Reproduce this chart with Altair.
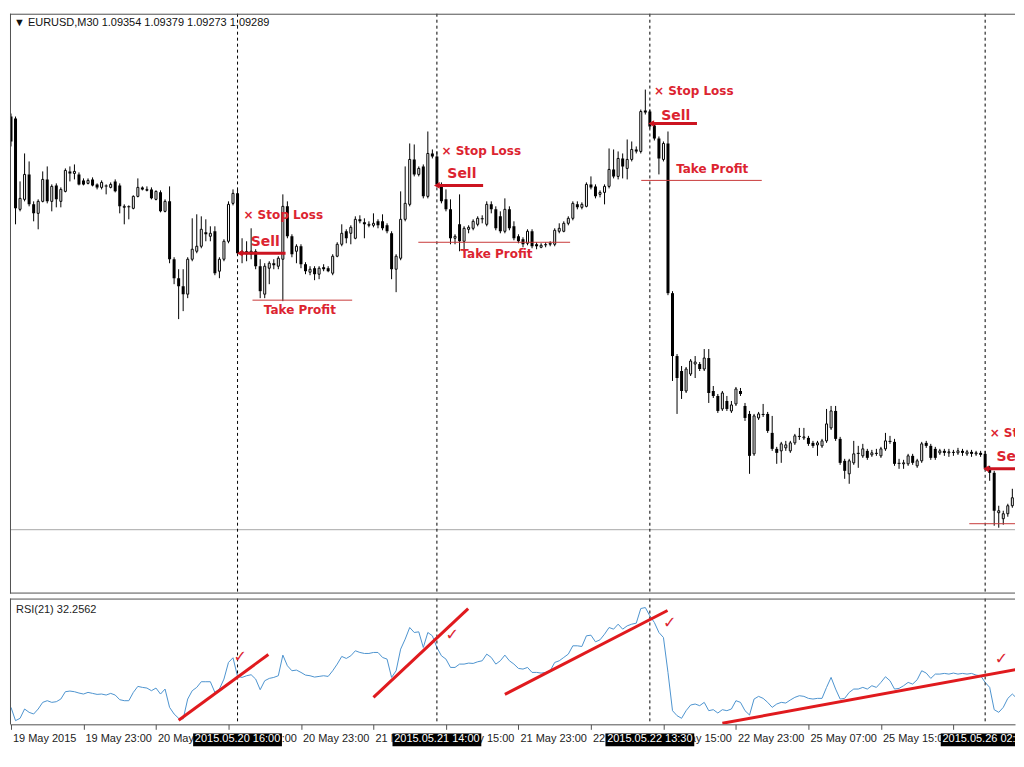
import altair as alt
import pandas as pd
import numpy as np

# ---------------- data (EURUSD M30, prices in points: 11385 -> 1.1385) ----------------
OPEN = [11385, 11383, 11292, 11302, 11327, 11297, 11288, 11300, 11322, 11300,
        11316, 11300, 11310, 11330, 11328, 11327, 11321, 11318, 11322, 11317,
        11314, 11316, 11314, 11320, 11316, 11294, 11295, 11293, 11305, 11314,
        11311, 11312, 11302, 11309, 11290, 11300, 11242, 11223, 11215, 11207,
        11242, 11250, 11255, 11269, 11265, 11270, 11230, 11242, 11260, 11298,
        11308, 11247, 11250, 11247, 11250, 11235, 11207, 11233, 11238, 11235,
        11242, 11295, 11265, 11250, 11255, 11237, 11229, 11233, 11227, 11234,
        11233, 11228, 11245, 11257, 11270, 11268, 11263, 11282, 11279, 11276,
        11276, 11280, 11280, 11276, 11268, 11232, 11243, 11282, 11297, 11342,
        11327, 11335, 11305, 11348, 11345, 11317, 11302, 11292, 11263, 11277,
        11260, 11272, 11273, 11277, 11283, 11277, 11297, 11292, 11285, 11270,
        11292, 11275, 11265, 11262, 11258, 11270, 11257, 11254, 11257, 11257,
        11257, 11270, 11270, 11278, 11283, 11297, 11294, 11295, 11317, 11315,
        11307, 11309, 11315, 11332, 11325, 11343, 11333, 11342, 11352, 11350,
        11391, 11390, 11376, 11363, 11342, 11358, 11208, 11145, 11130, 11110,
        11127, 11137, 11137, 11132, 11143, 11110, 11105, 11092, 11100, 11090,
        11097, 11110, 11095, 11087, 11047, 11083, 11087, 11087, 11068, 11052,
        11050, 11053, 11050, 11058, 11065, 11063, 11063, 11058, 11056, 11055,
        11060, 11073, 11090, 11062, 11040, 11027, 11038, 11048, 11045, 11050,
        11046, 11048, 11045, 11052, 11060, 11059, 11038, 11037, 11037, 11045,
        11035, 11040, 11058, 11055, 11052, 11048, 11050, 11048, 11049, 11048,
        11050, 11047, 11049, 11047, 11048, 11047, 11033, 11028, 10988, 10982,
        10987, 10995, 11003, 10997]

HIGH = [11388, 11385, 11320, 11348, 11340, 11300, 11302, 11330, 11335, 11317,
        11318, 11314, 11333, 11335, 11337, 11329, 11323, 11323, 11324, 11318,
        11321, 11317, 11319, 11322, 11318, 11297, 11296, 11306, 11323, 11315,
        11315, 11314, 11311, 11311, 11302, 11315, 11244, 11232, 11232, 11244,
        11283, 11287, 11285, 11282, 11275, 11275, 11244, 11262, 11300, 11312,
        11312, 11263, 11260, 11273, 11252, 11242, 11238, 11240, 11242, 11245,
        11307, 11300, 11267, 11257, 11257, 11239, 11235, 11235, 11235, 11237,
        11235, 11247, 11259, 11277, 11272, 11276, 11285, 11286, 11283, 11280,
        11288, 11282, 11287, 11278, 11270, 11247, 11310, 11335, 11358, 11357,
        11335, 11337, 11370, 11352, 11350, 11319, 11312, 11302, 11267, 11307,
        11275, 11276, 11282, 11285, 11286, 11300, 11300, 11295, 11290, 11303,
        11295, 11280, 11267, 11264, 11272, 11272, 11259, 11258, 11259, 11260,
        11273, 11278, 11280, 11285, 11300, 11300, 11299, 11319, 11325, 11317,
        11311, 11317, 11353, 11352, 11350, 11348, 11362, 11360, 11355, 11392,
        11412, 11392, 11378, 11365, 11360, 11370, 11210, 11147, 11135, 11134,
        11142, 11145, 11139, 11152, 11152, 11115, 11107, 11110, 11105, 11100,
        11114, 11113, 11098, 11090, 11087, 11089, 11097, 11089, 11085, 11054,
        11059, 11060, 11060, 11067, 11073, 11073, 11065, 11060, 11060, 11062,
        11092, 11095, 11095, 11064, 11042, 11042, 11060, 11055, 11057, 11052,
        11051, 11052, 11054, 11068, 11065, 11062, 11042, 11041, 11047, 11047,
        11042, 11059, 11060, 11057, 11054, 11052, 11052, 11052, 11051, 11053,
        11052, 11051, 11051, 11050, 11050, 11050, 11035, 11030, 10995, 10990,
        10997, 11012, 11005, 11000]

LOW = [11355, 11277, 11290, 11300, 11295, 11280, 11272, 11299, 11298, 11290,
       11294, 11294, 11309, 11320, 11322, 11316, 11316, 11317, 11315, 11312,
       11312, 11307, 11313, 11309, 11288, 11277, 11282, 11292, 11304, 11311,
       11310, 11302, 11301, 11289, 11289, 11238, 11217, 11182, 11190, 11203,
       11240, 11248, 11253, 11260, 11260, 11226, 11223, 11240, 11258, 11296,
       11246, 11238, 11240, 11242, 11232, 11203, 11203, 11217, 11232, 11232,
       11200, 11263, 11244, 11238, 11233, 11227, 11226, 11221, 11222, 11230,
       11229, 11226, 11244, 11255, 11258, 11257, 11262, 11278, 11263, 11274,
       11274, 11273, 11271, 11268, 11222, 11209, 11241, 11280, 11295, 11325,
       11325, 11303, 11303, 11343, 11315, 11298, 11290, 11257, 11257, 11250,
       11250, 11268, 11271, 11275, 11278, 11275, 11288, 11271, 11268, 11268,
       11271, 11261, 11258, 11254, 11256, 11253, 11252, 11253, 11254, 11255,
       11255, 11268, 11269, 11276, 11281, 11292, 11292, 11294, 11312, 11303,
       11304, 11297, 11313, 11323, 11322, 11323, 11322, 11340, 11348, 11348,
       11387, 11373, 11361, 11327, 11340, 11206, 11120, 11087, 11102, 11108,
       11125, 11123, 11130, 11130, 11098, 11103, 11088, 11090, 11090, 11088,
       11095, 11105, 11080, 11027, 11045, 11081, 11084, 11068, 11050, 11037,
       11038, 11050, 11048, 11056, 11061, 11061, 11055, 11053, 11045, 11053,
       11058, 11071, 11060, 11036, 11022, 11017, 11036, 11033, 11043, 11041,
       11044, 11045, 11043, 11050, 11057, 11035, 11032, 11032, 11035, 11036,
       11033, 11038, 11053, 11041, 11041, 11046, 11045, 11044, 11045, 11046,
       11045, 11045, 11044, 11045, 11044, 11031, 11020, 10975, 10973, 10976,
       10984, 10993, 10994, 10986]

CLOSE = [11360, 11293, 11303, 11327, 11297, 11288, 11300, 11322, 11300, 11315,
         11302, 11312, 11331, 11328, 11330, 11317, 11317, 11321, 11316, 11314,
         11319, 11315, 11317, 11310, 11295, 11295, 11294, 11305, 11314, 11312,
         11312, 11303, 11310, 11290, 11300, 11242, 11223, 11215, 11207, 11242,
         11252, 11255, 11272, 11267, 11268, 11228, 11242, 11260, 11297, 11308,
         11248, 11250, 11247, 11250, 11235, 11210, 11235, 11238, 11236, 11243,
         11295, 11265, 11247, 11255, 11237, 11230, 11232, 11227, 11233, 11232,
         11230, 11245, 11257, 11268, 11263, 11274, 11282, 11280, 11277, 11277,
         11278, 11276, 11273, 11270, 11232, 11245, 11282, 11298, 11342, 11327,
         11333, 11305, 11348, 11345, 11317, 11300, 11292, 11263, 11265, 11260,
         11273, 11274, 11280, 11283, 11282, 11297, 11292, 11273, 11270, 11292,
         11273, 11263, 11260, 11257, 11270, 11255, 11255, 11256, 11256, 11258,
         11271, 11273, 11278, 11283, 11298, 11294, 11297, 11317, 11314, 11305,
         11309, 11315, 11332, 11325, 11343, 11335, 11342, 11352, 11350, 11390,
         11389, 11375, 11363, 11343, 11358, 11208, 11145, 11123, 11110, 11132,
         11140, 11139, 11132, 11143, 11108, 11105, 11090, 11108, 11092, 11096,
         11112, 11107, 11083, 11045, 11085, 11087, 11086, 11070, 11052, 11048,
         11057, 11056, 11058, 11065, 11064, 11064, 11057, 11055, 11058, 11060,
         11077, 11090, 11062, 11038, 11030, 11040, 11047, 11047, 11052, 11043,
         11048, 11047, 11052, 11060, 11059, 11037, 11037, 11038, 11045, 11038,
         11040, 11057, 11055, 11043, 11043, 11050, 11048, 11049, 11048, 11050,
         11048, 11049, 11047, 11048, 11046, 11033, 11028, 10990, 10990, 10987,
         10995, 11003, 10997, 10990]

RSI = [23.0, 15.0, 16.4, 22.0, 20.0, 19.0, 22.0, 26.0, 27.0, 26.0,
       26.4, 28.0, 32.4, 32.8, 32.4, 31.6, 31.0, 32.0, 31.4, 30.8,
       31.0, 30.4, 31.4, 30.4, 27.6, 27.0, 27.0, 32.0, 35.6, 35.0,
       34.6, 33.0, 34.6, 31.0, 34.0, 23.0, 19.0, 16.4, 16.0, 28.0,
       33.0, 35.0, 38.4, 38.4, 38.4, 32.0, 34.0, 40.0, 50.0, 52.8,
       41.6, 41.0, 42.0, 42.6, 40.0, 33.6, 39.0, 40.4, 41.0, 42.0,
       54.4, 48.0, 45.0, 45.4, 44.0, 42.4, 42.0, 41.2, 41.6, 42.0,
       41.6, 45.0, 49.0, 53.6, 52.4, 54.0, 57.0, 56.0, 55.4, 55.4,
       56.0, 56.0, 53.0, 52.0, 41.0, 45.0, 58.0, 64.0, 71.0, 68.0,
       68.4, 59.0, 68.0, 66.0, 59.0, 54.0, 52.0, 47.0, 47.0, 49.0,
       49.0, 49.6, 49.4, 50.4, 51.0, 55.0, 53.0, 49.0, 51.0, 54.4,
       51.0, 49.0, 46.4, 46.0, 47.0, 44.0, 44.0, 43.6, 44.0, 45.0,
       50.0, 51.0, 53.0, 55.0, 60.0, 60.0, 59.6, 66.0, 66.4, 62.4,
       63.6, 67.0, 71.0, 70.0, 73.0, 70.0, 72.0, 73.0, 73.6, 82.4,
       83.0, 78.0, 74.0, 68.0, 65.0, 44.0, 21.0, 18.0, 16.4, 21.0,
       24.4, 25.0, 24.0, 26.0, 21.0, 21.6, 19.6, 21.6, 21.0, 22.0,
       27.0, 26.0, 21.0, 18.4, 28.0, 29.6, 28.4, 26.0, 23.0, 25.0,
       26.0, 25.6, 27.4, 29.0, 30.0, 29.6, 28.4, 28.0, 28.4, 28.4,
       35.0, 41.0, 34.0, 28.0, 28.4, 32.0, 34.0, 34.0, 35.0, 34.0,
       36.0, 35.0, 38.0, 41.4, 39.0, 34.0, 34.4, 36.0, 38.0, 37.0,
       39.6, 45.0, 43.6, 40.4, 43.0, 43.0, 43.4, 43.0, 43.6, 43.0,
       43.4, 43.0, 43.4, 42.4, 42.0, 38.0, 35.0, 21.6, 20.0, 23.0,
       28.4, 31.0, 28.4, 32.0]

TICK_IDX = [0, 16, 32, 48, 64, 80, 96, 112, 128, 144, 160, 176, 192, 208]
TICK_LABELS = ["19 May 2015", "19 May 23:00", "20 May 07:00", "20 May 15:00",
               "20 May 23:00", "21 May 07:00", "21 May 15:00", "21 May 23:00",
               "22 May 07:00", "22 May 15:00", "22 May 23:00", "25 May 07:00",
               "25 May 15:00", "25 May 23:00"]

VLINE_IDX = [50, 94, 141, 215]
VLINE_LABELS = ["2015.05.20 16:00", "2015.05.21 14:00", "2015.05.22 13:30", "2015.05.26 02:30"]

BID = 1.0971

# trade annotations (bar index, price)
SL_I = [51.3, 95.0, 141.9, 216.0]
SL_P = [1.1286, 1.1350, 1.1411, 1.1068]
SELL_TXT_I = [52.9, 96.3, 143.5, 217.5]
SELL_TXT_P = [1.1259, 1.1327, 1.1386, 1.1044]
SELL_I0 = [50.5, 94.0, 141.3, 215.2]
SELL_I1 = [60.6, 104.2, 151.4, 226.0]
SELL_P = [1.1248, 1.1316, 1.1378, 1.1032]
TP_I0 = [53.3, 89.9, 139.1, 211.5]
TP_I1 = [75.3, 123.4, 165.7, 226.0]
TP_P = [1.1201, 1.1259, 1.1321, 1.0977]
TP_TXT_I = [55.8, 99.2, 146.8]
TP_TXT_P = [1.1191, 1.1247, 1.1332]

# RSI trend lines and check marks
TL_I0 = [37.0, 80.0, 109.0, 157.0]
TL_R0 = [15.2, 29.0, 30.8, 13.4]
TL_I1 = [56.8, 100.9, 144.9, 223.1]
TL_R1 = [54.8, 82.4, 81.2, 46.4]
CHECK_I = [50.6, 97.4, 145.4, 218.6]
CHECK_R = [53.0, 66.2, 74.0, 51.8]

# ---------------- build ----------------
W = 1007
H_PRICE = 581
H_RSI = 126
H_STRIP = 17
RED = "#dc2430"
DARK_RED = "#cc1420"
FONT = "Liberation Sans"
AFONT = "DejaVu Sans"

df = pd.DataFrame({
    "i": np.arange(len(OPEN)),
    "open": np.array(OPEN) / 1e4,
    "high": np.array(HIGH) / 1e4,
    "low": np.array(LOW) / 1e4,
    "close": np.array(CLOSE) / 1e4,
})
bull = df[df["close"] >= df["open"]]
bear = df[df["close"] < df["open"]]
rsi_df = pd.DataFrame({"i": np.arange(len(RSI)), "rsi": RSI})
one = pd.DataFrame({"k": [0]})

XS = alt.Scale(domain=[-0.22, 221.59], nice=False, zero=False, padding=0)
YP = alt.Scale(domain=[1.0907, 1.1488], nice=False, zero=False, padding=0)
YR = alt.Scale(domain=[12.8, 88.4], nice=False, zero=False, padding=0)

X = alt.X("i:Q", scale=XS, axis=None)

vl_df = pd.DataFrame({"i": VLINE_IDX, "label": VLINE_LABELS})

# ---- price panel ----
p_border_l = alt.Chart(one).mark_rule(color="#505050").encode(
    x=alt.value(0.5), y=alt.value(0), y2=alt.value(H_PRICE))
p_border_t = alt.Chart(one).mark_rule(color="#505050").encode(
    x=alt.value(0), x2=alt.value(W), y=alt.value(0.5))
p_border_b = alt.Chart(one).mark_rule(color="#505050").encode(
    x=alt.value(0), x2=alt.value(W), y=alt.value(H_PRICE - 0.5))

bid = alt.Chart(pd.DataFrame({"p": [BID]})).mark_rule(color="#a8a8a8", strokeWidth=1).encode(
    y=alt.Y("p:Q", scale=YP, axis=None))

vlines_p = alt.Chart(vl_df).mark_rule(color="black", strokeWidth=1, strokeDash=[3, 3]).encode(
    x=alt.X("i:Q", scale=XS, axis=None))

wicks = alt.Chart(df).mark_rule(color="black", strokeWidth=1, clip=True).encode(
    x=X, y=alt.Y("low:Q", scale=YP, axis=None), y2="high:Q")
bear_b = alt.Chart(bear).mark_bar(size=3, color="black", clip=True).encode(
    x=X, y=alt.Y("open:Q", scale=YP, axis=None), y2="close:Q")
bull_b = alt.Chart(bull).mark_bar(size=2, fill="white", stroke="black", strokeWidth=1, clip=True).encode(
    x=X, y=alt.Y("open:Q", scale=YP, axis=None), y2="close:Q")

tp_df = pd.DataFrame({"i0": TP_I0, "i1": TP_I1, "p": TP_P})
tp_lines = alt.Chart(tp_df).mark_rule(color="#c83a3a", strokeWidth=1, clip=True).encode(
    x=alt.X("i0:Q", scale=XS, axis=None), x2="i1:Q", y=alt.Y("p:Q", scale=YP, axis=None))

sell_df = pd.DataFrame({"i0": SELL_I0, "i1": SELL_I1, "p": SELL_P})
sell_lines = alt.Chart(sell_df).mark_rule(color=DARK_RED, strokeWidth=3, clip=True).encode(
    x=alt.X("i0:Q", scale=XS, axis=None), x2="i1:Q", y=alt.Y("p:Q", scale=YP, axis=None))
sell_arrows = alt.Chart(sell_df).mark_point(shape="triangle-left", filled=True, size=45,
                                            color=DARK_RED, opacity=1, clip=True).encode(
    x=alt.X("i0:Q", scale=XS, axis=None), y=alt.Y("p:Q", scale=YP, axis=None))

sl_df = pd.DataFrame({"i": SL_I, "p": SL_P, "t": ["× Stop Loss"] * len(SL_I)})
sl_text = alt.Chart(sl_df).mark_text(align="left", baseline="middle", font=AFONT, fontSize=12,
                                     fontWeight="bold", color=RED, clip=True).encode(
    x=X, y=alt.Y("p:Q", scale=YP, axis=None), text="t:N")

sell_t_df = pd.DataFrame({"i": SELL_TXT_I, "p": SELL_TXT_P, "t": ["Sell"] * len(SELL_TXT_I)})
sell_text = alt.Chart(sell_t_df).mark_text(align="left", baseline="middle", font=AFONT, fontSize=14,
                                           fontWeight="bold", color=RED, clip=True).encode(
    x=X, y=alt.Y("p:Q", scale=YP, axis=None), text="t:N")

tp_t_df = pd.DataFrame({"i": TP_TXT_I, "p": TP_TXT_P, "t": ["Take Profit"] * len(TP_TXT_I)})
tp_text = alt.Chart(tp_t_df).mark_text(align="left", baseline="middle", font=AFONT, fontSize=12,
                                       fontWeight="bold", color=RED, clip=True).encode(
    x=X, y=alt.Y("p:Q", scale=YP, axis=None), text="t:N")

header = alt.Chart(pd.DataFrame({"t": ["▼  EURUSD,M30  1.09354 1.09379 1.09273 1.09289"]})).mark_text(
    align="left", baseline="middle", font=FONT, fontSize=11, color="#111").encode(
    x=alt.value(4), y=alt.value(9.5), text="t:N")

price = alt.layer(
    bid, vlines_p, wicks, bear_b, bull_b, tp_lines, sell_lines, sell_arrows,
    sl_text, sell_text, tp_text, header, p_border_l, p_border_t, p_border_b
).properties(width=W, height=H_PRICE)

# ---- RSI panel ----
r_border_l = alt.Chart(one).mark_rule(color="#505050").encode(
    x=alt.value(0.5), y=alt.value(0), y2=alt.value(H_RSI))
r_border_t = alt.Chart(one).mark_rule(color="#505050").encode(
    x=alt.value(0), x2=alt.value(W), y=alt.value(0.5))

rsi_line = alt.Chart(rsi_df).mark_line(color="#4d94cf", strokeWidth=1, clip=True).encode(
    x=alt.X("i:Q", scale=XS,
            axis=alt.Axis(values=TICK_IDX, labels=False, ticks=True, tickSize=5, tickColor="#505050",
                          domain=True, domainColor="#505050", grid=False, title="")),
    y=alt.Y("rsi:Q", scale=YR, axis=None))

vlines_r = alt.Chart(vl_df).mark_rule(color="black", strokeWidth=1, strokeDash=[3, 3]).encode(
    x=alt.X("i:Q", scale=XS))

tl_df = pd.DataFrame({"i0": TL_I0, "r0": TL_R0, "i1": TL_I1, "r1": TL_R1})
trend = alt.Chart(tl_df).mark_rule(color="#e01a1e", strokeWidth=3, clip=True).encode(
    x=alt.X("i0:Q", scale=XS), x2="i1:Q", y=alt.Y("r0:Q", scale=YR, axis=None), y2="r1:Q")

ck_df = pd.DataFrame({"i": CHECK_I, "r": CHECK_R, "t": ["✓"] * len(CHECK_I)})
checks = alt.Chart(ck_df).mark_text(font=AFONT, fontSize=16, fontWeight="bold", color=RED,
                                    clip=True).encode(
    x=alt.X("i:Q", scale=XS), y=alt.Y("r:Q", scale=YR, axis=None), text="t:N")

rsi_label = alt.Chart(pd.DataFrame({"t": ["RSI(21) 32.2562"]})).mark_text(
    align="left", baseline="middle", font=FONT, fontSize=11, color="#222").encode(
    x=alt.value(6), y=alt.value(11), text="t:N")

rsi_panel = alt.layer(
    rsi_line, vlines_r, trend, checks, rsi_label, r_border_l, r_border_t
).properties(width=W, height=H_RSI)

# ---- time strip ----
tick_df = pd.DataFrame({"i": TICK_IDX, "label": TICK_LABELS})
tick_text = alt.Chart(tick_df).mark_text(align="left", baseline="middle", dx=2, font=FONT,
                                         fontSize=11, color="#222", clip=True).encode(
    x=alt.X("i:Q", scale=XS, axis=None), y=alt.value(5.5), text="label:N")

box_df = vl_df.copy()
box_df["x0"] = box_df["i"] - 9.8
box_df["x1"] = box_df["i"] + 9.8
boxes = alt.Chart(box_df).mark_rect(color="black", clip=True).encode(
    x=alt.X("x0:Q", scale=XS, axis=None), x2="x1:Q", y=alt.value(0), y2=alt.value(13))
box_text = alt.Chart(box_df).mark_text(align="center", baseline="middle", font=FONT, fontSize=11,
                                       color="white", clip=True).encode(
    x=alt.X("i:Q", scale=XS, axis=None), y=alt.value(6), text="label:N")

strip = alt.layer(tick_text, boxes, box_text).properties(width=W, height=H_STRIP)

chart = alt.vconcat(price, rsi_panel, strip, spacing=3).resolve_scale(
    x="independent", y="independent"
).properties(
    padding={"left": 1, "top": 4, "right": 0, "bottom": 0},
    background="white"
).configure_view(strokeWidth=0)

chart.save("out.html", embed_options={"renderer": "svg", "actions": False})
